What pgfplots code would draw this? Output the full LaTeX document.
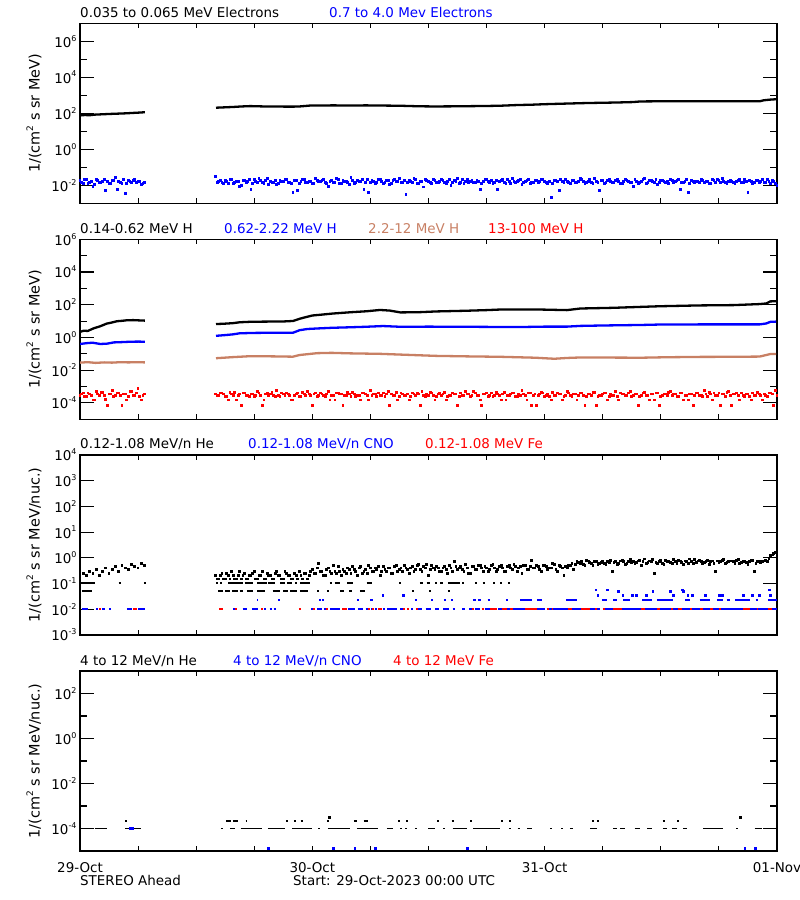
\documentclass[border=0pt]{standalone}
\usepackage{fontspec}
\setmainfont{DejaVu Sans}
\usepackage{pgfplots}
\pgfplotsset{compat=1.18}
\definecolor{tanc}{RGB}{200,128,100}
\newcommand\lbl{\fontsize{13.5}{16}\selectfont}
\newcommand\ylb{\fontsize{14.5}{17}\selectfont}
\newcommand\tp[1]{10\raisebox{0.85ex}{\fontsize{8}{8}\selectfont #1}}
\newcommand\cmq{cm\raisebox{0.85ex}{\fontsize{9}{9}\selectfont 2}}
\pgfplotsset{
 stereo/.style={
  scale only axis, width=697bp, height=180bp, anchor=south west,
  xmin=0, xmax=72, clip=true, clip mode=individual,
  xtick=\empty,
  extra x ticks={0,6,12,18,24,30,36,42,48,54,60,66,72},
  extra x tick labels={},
  extra x tick style={major tick length=5bp},
  major tick length=14bp, minor tick length=7bp,
  tick align=inside,
  tick style={black, line width=1.1bp},
  axis line style={line width=1.2bp},
  tick label style={font=\lbl},
  xticklabel style={yshift=-8bp},
  every axis y label/.style={at={(axis description cs:0,0.5)}, xshift=-46bp, rotate=90, anchor=center, font=\ylb},
  unbounded coords=jump,
 },
 mydots/.style={only marks, mark=square*, mark size=0.9bp, mark options={line width=0pt}},
 myrow/.style={line width=1.8bp, mark=none},
 mytr/.style={line width=2.3bp, mark=none, line join=round},
}
\tikzset{myttl/.style={anchor=base west, inner sep=0pt, font=\lbl, yshift=6bp}}
\begin{document}
\begin{tikzpicture}
\useasboundingbox (0,0) rectangle (800bp,900bp);
% ---------------- Panel 1 ----------------
\begin{axis}[ymode=log, stereo, at={(80bp,696.7bp)}, ymin=1e-3, ymax=1e7,
  ytick={1e-2,1,1e2,1e4,1e6}, minor ytick={1e-1,1e1,1e3,1e5},
  yticklabels={\tp{-2},\tp{0},\tp{2},\tp{4},\tp{6}},
  ylabel={1/(\cmq\ s sr MeV)}]
\addplot[mytr, black] coordinates {(0,76)(0.5,80)(1,78)(1.5,84)(2.1,87)(2.7,90)(3.3,93)(4,96)(4.8,100)(5.5,105)(6.2,110)(6.7,115)};
\addplot[mytr, black] coordinates {(14.05,204)(15,215)(15.8,224)(16.7,240)(17.6,251)(19,240)(20.5,236)(22,234)(22.7,240)(23.8,270)(25,272)(26.1,275)(28,272)(29.6,275)(31.5,268)(33.1,262)(35,245)(36.5,240)(38,242)(40,248)(42,255)(43.4,263)(45,285)(46.8,302)(48,320)(49.6,339)(51,355)(52.4,372)(54,385)(55.5,398)(57.1,420)(57.9,455)(60,465)(62,468)(64,470)(66,468)(68,470)(70.25,470)(70.6,525)(71.3,575)(71.9,603)};
\addplot[mydots, blue] table[row sep=\\, x expr=\coordindex/3, y=v] {v\\ 18e-3\\ 12e-3\\ 20e-3\\ 15e-3\\ 9e-3\\ 22e-3\\ 14e-3\\ 17e-3\\ 5e-3\\ 13e-3\\ 19e-3\\ 28e-3\\ 16e-3\\ 12e-3\\ 3.6e-3\\ 18e-3\\ 14e-3\\ 22e-3\\ 17e-3\\ 11e-3\\ 15e-3\\};
\addplot[mydots, blue] table[row sep=\\, x expr=\coordindex/3+0.1667, y=v] {v\\ 15e-3\\ 20e-3\\ 13e-3\\ 17e-3\\ 11e-3\\ 19e-3\\ 14e-3\\ 22e-3\\ 16e-3\\ 12e-3\\ 18e-3\\ 6e-3\\ 15e-3\\ 21e-3\\ 13e-3\\ 17e-3\\ 19e-3\\ 14e-3\\ 16e-3\\ 12e-3\\};
\addplot[mydots, blue] table[row sep=\\, x expr=\coordindex/3+14, y=v] {v\\
30e-3\\ 16e-3\\ 14e-3\\ 18e-3\\ 12e-3\\ 22e-3\\ 15e-3\\ 17e-3\\ 10e-3\\ 19e-3\\
16e-3\\ 6e-3\\ 21e-3\\ 14e-3\\ 18e-3\\ 13e-3\\ 25e-3\\ 17e-3\\ 15e-3\\ 11e-3\\
19e-3\\ 16e-3\\ 22e-3\\ 14e-3\\ 4e-3\\ 18e-3\\ 13e-3\\ 20e-3\\ 15e-3\\ 17e-3\\
12e-3\\ 24e-3\\ 16e-3\\ 19e-3\\ 14e-3\\ 9e-3\\ 18e-3\\ 15e-3\\ 21e-3\\ 13e-3\\
17e-3\\ 15e-3\\ 26e-3\\ 12e-3\\ 18e-3\\ 16e-3\\ 6e-3\\ 20e-3\\ 14e-3\\ 17e-3\\
15e-3\\ 22e-3\\ 13e-3\\ 18e-3\\ 11e-3\\ 19e-3\\ 16e-3\\ 24e-3\\ 14e-3\\ 3e-3\\
18e-3\\ 15e-3\\ 20e-3\\ 13e-3\\ 17e-3\\ 22e-3\\ 16e-3\\ 12e-3\\ 19e-3\\ 15e-3\\
21e-3\\ 14e-3\\ 17e-3\\ 10e-3\\ 18e-3\\ 25e-3\\ 15e-3\\ 13e-3\\ 20e-3\\ 16e-3\\
14e-3\\ 19e-3\\ 6e-3\\ 17e-3\\ 22e-3\\ 15e-3\\ 12e-3\\ 18e-3\\ 16e-3\\ 21e-3\\
13e-3\\ 17e-3\\ 24e-3\\ 15e-3\\ 19e-3\\ 11e-3\\ 16e-3\\ 20e-3\\ 14e-3\\ 18e-3\\
15e-3\\ 22e-3\\ 17e-3\\ 13e-3\\ 2e-3\\ 19e-3\\ 16e-3\\ 21e-3\\ 14e-3\\ 17e-3\\
12e-3\\ 18e-3\\ 15e-3\\ 23e-3\\ 16e-3\\ 14e-3\\ 20e-3\\ 13e-3\\ 17e-3\\ 5e-3\\
19e-3\\ 15e-3\\ 22e-3\\ 14e-3\\ 18e-3\\ 16e-3\\ 12e-3\\ 21e-3\\ 17e-3\\ 15e-3\\
20e-3\\ 13e-3\\ 16e-3\\ 25e-3\\ 14e-3\\ 18e-3\\ 15e-3\\ 11e-3\\ 19e-3\\ 16e-3\\
17e-3\\ 21e-3\\ 14e-3\\ 18e-3\\ 6e-3\\ 15e-3\\ 22e-3\\ 13e-3\\ 17e-3\\ 16e-3\\
14e-3\\ 19e-3\\ 16e-3\\ 12e-3\\ 20e-3\\ 15e-3\\ 18e-3\\ 23e-3\\ 14e-3\\ 17e-3\\
16e-3\\ 13e-3\\ 19e-3\\ 15e-3\\ 21e-3\\ 4e-3\\ 17e-3\\ 14e-3\\ 18e-3\\ 16e-3\\
15e-3\\ 20e-3\\ 13e-3\\ 17e-3\\ 10e-3\\};
\addplot[mydots, blue] table[row sep=\\, x expr=\coordindex/3+14.1667, y=v] {v\\
14e-3\\ 19e-3\\ 12e-3\\ 16e-3\\ 21e-3\\ 13e-3\\ 17e-3\\ 9e-3\\ 18e-3\\ 15e-3\\
20e-3\\ 12e-3\\ 16e-3\\ 23e-3\\ 14e-3\\ 18e-3\\ 11e-3\\ 15e-3\\ 19e-3\\ 13e-3\\
17e-3\\ 22e-3\\ 15e-3\\ 12e-3\\ 18e-3\\ 5e-3\\ 16e-3\\ 20e-3\\ 14e-3\\ 17e-3\\
13e-3\\ 19e-3\\ 16e-3\\ 21e-3\\ 12e-3\\ 17e-3\\ 15e-3\\ 24e-3\\ 13e-3\\ 18e-3\\
16e-3\\ 11e-3\\ 19e-3\\ 14e-3\\ 17e-3\\ 22e-3\\ 15e-3\\ 4e-3\\ 18e-3\\ 13e-3\\
20e-3\\ 16e-3\\ 14e-3\\ 18e-3\\ 12e-3\\ 21e-3\\ 17e-3\\ 15e-3\\ 19e-3\\ 14e-3\\
16e-3\\ 23e-3\\ 13e-3\\ 17e-3\\ 8e-3\\ 19e-3\\ 15e-3\\ 21e-3\\ 14e-3\\ 16e-3\\
18e-3\\ 12e-3\\ 20e-3\\ 15e-3\\ 17e-3\\ 13e-3\\ 22e-3\\ 16e-3\\ 14e-3\\ 19e-3\\
15e-3\\ 17e-3\\ 12e-3\\ 21e-3\\ 16e-3\\ 19e-3\\ 14e-3\\ 6e-3\\ 18e-3\\ 15e-3\\
22e-3\\ 13e-3\\ 17e-3\\ 16e-3\\ 20e-3\\ 14e-3\\ 18e-3\\ 12e-3\\ 15e-3\\ 19e-3\\
16e-3\\ 21e-3\\ 14e-3\\ 17e-3\\ 13e-3\\ 19e-3\\ 5e-3\\ 16e-3\\ 22e-3\\ 15e-3\\
18e-3\\ 14e-3\\ 16e-3\\ 20e-3\\ 12e-3\\ 17e-3\\ 15e-3\\ 23e-3\\ 14e-3\\ 18e-3\\
13e-3\\ 19e-3\\ 16e-3\\ 15e-3\\ 21e-3\\ 12e-3\\ 17e-3\\ 18e-3\\ 14e-3\\ 9e-3\\
17e-3\\ 15e-3\\ 20e-3\\ 13e-3\\ 18e-3\\ 16e-3\\ 22e-3\\ 14e-3\\ 19e-3\\ 15e-3\\
12e-3\\ 18e-3\\ 16e-3\\ 21e-3\\ 14e-3\\ 17e-3\\ 4e-3\\ 19e-3\\ 15e-3\\ 16e-3\\
20e-3\\ 14e-3\\ 17e-3\\ 13e-3\\ 18e-3\\ 22e-3\\ 15e-3\\ 16e-3\\ 12e-3\\ 19e-3\\
15e-3\\ 17e-3\\ 21e-3\\ 14e-3\\ 16e-3\\ 19e-3\\ 13e-3\\ 18e-3\\ 15e-3\\ 20e-3\\
14e-3\\ 16e-3\\ 18e-3\\ 12e-3\\};
\node[myttl, text=black] at (rel axis cs:0,1) {0.035 to 0.065 MeV Electrons};
\node[myttl, text=blue, xshift=249bp] at (rel axis cs:0,1) {0.7 to 4.0 Mev Electrons};
\end{axis}
% ---------------- Panel 2 ----------------
\begin{axis}[ymode=log, stereo, at={(80bp,480.7bp)}, ymin=1e-5, ymax=1e6,
  ytick={1e-4,1e-2,1,1e2,1e4,1e6}, minor ytick={1e-3,1e-1,1e1,1e3,1e5},
  yticklabels={\tp{-4},\tp{-2},\tp{0},\tp{2},\tp{4},\tp{6}},
  ylabel={1/(\cmq\ s sr MeV)}]
\addplot[mytr, black] coordinates {(0,2.2)(0.4,2.6)(0.8,2.5)(1.4,3.6)(2.07,4.8)(2.75,7.0)(3.2,8.0)(3.8,9.8)(4.4,10.5)(4.8,11.2)(5.5,11.5)(6.2,11.0)(6.7,10.7)};
\addplot[mytr, black] coordinates {(14.05,6.6)(15,7.0)(15.8,7.5)(16.5,8.5)(17.6,9.1)(19,9.3)(21,9.5)(22,10.2)(22.7,14)(23.4,18)(24,22)(25,25)(26.1,29)(28,35)(29.6,40)(31,48)(32,44)(33.1,34)(35,35)(36.8,39)(39.9,43)(42,47)(43.4,51)(47.5,51)(50.3,47)(51.7,59)(55.1,65)(57.9,74)(59.9,81)(64,91)(67.5,95)(70.2,110)(70.9,120)(71.3,160)(71.9,165)};
\addplot[mytr, blue] coordinates {(0,0.40)(0.7,0.45)(1.3,0.48)(2.1,0.40)(2.8,0.42)(3.5,0.50)(4.3,0.52)(5.2,0.55)(6.0,0.56)(6.7,0.55)};
\addplot[mytr, blue] coordinates {(14.05,1.26)(15,1.4)(15.8,1.55)(16.5,1.8)(18,1.9)(20,1.95)(22,1.95)(22.7,2.8)(23.5,3.3)(24.5,3.55)(26,3.9)(27.9,4.2)(29.5,4.5)(31.3,5.0)(33.1,4.5)(36,4.6)(40,4.5)(43,4.4)(46,4.4)(48,4.6)(50.3,4.6)(51.7,5.1)(54,5.4)(57.9,5.8)(60,6.2)(64,6.3)(68,6.3)(70.2,6.3)(70.9,7.2)(71.3,9.0)(71.9,9.3)};
\addplot[mytr, tanc] coordinates {(0,0.029)(0.8,0.031)(1.6,0.028)(2.5,0.030)(3.3,0.029)(4.2,0.031)(5.0,0.030)(5.9,0.031)(6.7,0.030)};
\addplot[mytr, tanc] coordinates {(14.05,0.054)(15.8,0.063)(17.6,0.072)(20,0.070)(22,0.067)(22.7,0.085)(24.5,0.11)(26,0.115)(27.9,0.107)(31,0.100)(33.1,0.090)(36.8,0.075)(40,0.070)(43.4,0.066)(47,0.058)(49,0.050)(50.3,0.056)(51.7,0.060)(55,0.059)(58,0.058)(60.6,0.062)(64,0.065)(67.5,0.066)(70.2,0.068)(70.9,0.085)(71.3,0.097)(71.9,0.098)};
\addplot[mydots, red] table[row sep=\\, x expr=\coordindex/3, y=v] {v\\ 3e-4\\ 4e-4\\ 2.5e-4\\ 3.5e-4\\ 1.5e-4\\ 5e-4\\ 3e-4\\ 4.5e-4\\ 1.7e-4\\ 3.5e-4\\ 6e-4\\ 3e-4\\ 4e-4\\ 0.7e-4\\ 3.5e-4\\ 2.5e-4\\ 5e-4\\ 3e-4\\ 8e-4\\ 1.5e-4\\ 3.5e-4\\};
\addplot[mydots, red] table[row sep=\\, x expr=\coordindex/3+0.1667, y=v] {v\\ 3.5e-4\\ 2.5e-4\\ 4e-4\\ 3e-4\\ 1.5e-4\\ 3.5e-4\\ 4.5e-4\\ 3e-4\\ 0.7e-4\\ 3.5e-4\\ 2.5e-4\\ 4e-4\\ 3e-4\\ 3.5e-4\\ 1.5e-4\\ 5e-4\\ 3e-4\\ 4e-4\\ 2.5e-4\\ 3e-4\\};
\addplot[mydots, red] table[row sep=\\, x expr=\coordindex/3+14, y=v] {v\\
3.5e-4\\ 3e-4\\ 4e-4\\ 2.5e-4\\ 1.5e-4\\ 3.5e-4\\ 4.5e-4\\ 3e-4\\ 0.7e-4\\ 4e-4\\
3e-4\\ 3.5e-4\\ 2.5e-4\\ 5e-4\\ 3e-4\\ 1.5e-4\\ 4e-4\\ 3.5e-4\\ 3e-4\\ 6e-4\\
2.5e-4\\ 3.5e-4\\ 4e-4\\ 3e-4\\ 1.5e-4\\ 3.5e-4\\ 2.5e-4\\ 4.5e-4\\ 3e-4\\ 3.5e-4\\
0.7e-4\\ 4e-4\\ 3e-4\\ 3.5e-4\\ 2.5e-4\\ 5e-4\\ 3e-4\\ 1.5e-4\\ 4e-4\\ 3.5e-4\\
3e-4\\ 4.5e-4\\ 2.5e-4\\ 3.5e-4\\ 3e-4\\ 1.5e-4\\ 4e-4\\ 3e-4\\ 6e-4\\ 3.5e-4\\
2.5e-4\\ 3e-4\\ 4e-4\\ 3.5e-4\\ 0.7e-4\\ 3e-4\\ 4.5e-4\\ 2.5e-4\\ 3.5e-4\\ 3e-4\\
1.5e-4\\ 4e-4\\ 3e-4\\ 3.5e-4\\ 5e-4\\ 2.5e-4\\ 3e-4\\ 4e-4\\ 1.5e-4\\ 3.5e-4\\
3e-4\\ 4.5e-4\\ 2.5e-4\\ 3e-4\\ 3.5e-4\\ 0.7e-4\\ 4e-4\\ 3e-4\\ 3.5e-4\\ 2.5e-4\\
5e-4\\ 3e-4\\ 1.5e-4\\ 3.5e-4\\ 4e-4\\ 3e-4\\ 2.5e-4\\ 4.5e-4\\ 3e-4\\ 3.5e-4\\
1.5e-4\\ 3e-4\\ 4e-4\\ 2.5e-4\\ 3.5e-4\\ 6e-4\\ 3e-4\\ 4e-4\\ 0.7e-4\\ 3.5e-4\\
3e-4\\ 4.5e-4\\ 2.5e-4\\ 3.5e-4\\ 1.5e-4\\ 3e-4\\ 4e-4\\ 3.5e-4\\ 2.5e-4\\ 5e-4\\
3e-4\\ 3.5e-4\\ 1.5e-4\\ 4e-4\\ 3e-4\\ 2.5e-4\\ 3.5e-4\\ 4.5e-4\\ 0.7e-4\\ 3e-4\\
3.5e-4\\ 4e-4\\ 2.5e-4\\ 3e-4\\ 5e-4\\ 1.5e-4\\ 3.5e-4\\ 3e-4\\ 4e-4\\ 2.5e-4\\
3.5e-4\\ 0.7e-4\\ 3e-4\\ 4.5e-4\\ 3e-4\\ 3.5e-4\\ 1.5e-4\\ 4e-4\\ 2.5e-4\\ 3.5e-4\\
3e-4\\ 5e-4\\ 3.5e-4\\ 2.5e-4\\ 4e-4\\ 1.5e-4\\ 3e-4\\ 3.5e-4\\ 0.7e-4\\ 4e-4\\
3e-4\\ 2.5e-4\\ 3.5e-4\\ 4.5e-4\\ 1.5e-4\\ 3e-4\\ 4e-4\\ 3.5e-4\\ 2.5e-4\\ 5e-4\\
0.7e-4\\ 3.5e-4\\ 3e-4\\ 4e-4\\ 2.5e-4\\ 3.5e-4\\ 1.5e-4\\ 3e-4\\ 4.5e-4\\ 3e-4\\
3.5e-4\\ 2.5e-4\\ 4e-4\\ 0.7e-4\\ 3e-4\\};
\addplot[mydots, red] table[row sep=\\, x expr=\coordindex/3+14.1667, y=v] {v\\
3e-4\\ 4e-4\\ 3.5e-4\\ 2.5e-4\\ 4.5e-4\\ 3e-4\\ 1.5e-4\\ 3.5e-4\\ 4e-4\\ 3e-4\\
2.5e-4\\ 3.5e-4\\ 3e-4\\ 4e-4\\ 0.7e-4\\ 3.5e-4\\ 3e-4\\ 4.5e-4\\ 2.5e-4\\ 3e-4\\
4e-4\\ 3e-4\\ 3.5e-4\\ 1.5e-4\\ 3e-4\\ 4e-4\\ 2.5e-4\\ 3.5e-4\\ 5e-4\\ 3e-4\\
3.5e-4\\ 2.5e-4\\ 4e-4\\ 3e-4\\ 3.5e-4\\ 1.5e-4\\ 3e-4\\ 4e-4\\ 3.5e-4\\ 0.7e-4\\
3e-4\\ 3.5e-4\\ 4.5e-4\\ 2.5e-4\\ 3e-4\\ 4e-4\\ 3.5e-4\\ 1.5e-4\\ 3e-4\\ 3.5e-4\\
4e-4\\ 3e-4\\ 2.5e-4\\ 5e-4\\ 3.5e-4\\ 3e-4\\ 1.5e-4\\ 4e-4\\ 3e-4\\ 3.5e-4\\
2.5e-4\\ 3.5e-4\\ 4e-4\\ 0.7e-4\\ 3e-4\\ 3.5e-4\\ 4.5e-4\\ 3e-4\\ 2.5e-4\\ 4e-4\\
3.5e-4\\ 1.5e-4\\ 3e-4\\ 4e-4\\ 3.5e-4\\ 2.5e-4\\ 3e-4\\ 5e-4\\ 3.5e-4\\ 3e-4\\
4e-4\\ 3e-4\\ 0.7e-4\\ 3.5e-4\\ 2.5e-4\\ 4e-4\\ 3e-4\\ 3.5e-4\\ 1.5e-4\\ 4.5e-4\\
3e-4\\ 3.5e-4\\ 4e-4\\ 2.5e-4\\ 3e-4\\ 3.5e-4\\ 1.5e-4\\ 4e-4\\ 3e-4\\ 0.7e-4\\
3.5e-4\\ 4e-4\\ 3e-4\\ 2.5e-4\\ 4.5e-4\\ 3e-4\\ 3.5e-4\\ 1.5e-4\\ 3e-4\\ 4e-4\\
2.5e-4\\ 3.5e-4\\ 3e-4\\ 4e-4\\ 0.7e-4\\ 3.5e-4\\ 3e-4\\ 4.5e-4\\ 2.5e-4\\ 3e-4\\
4e-4\\ 1.5e-4\\ 3.5e-4\\ 3e-4\\ 2.5e-4\\ 4e-4\\ 3.5e-4\\ 3e-4\\ 5e-4\\ 3e-4\\
3.5e-4\\ 2.5e-4\\ 4e-4\\ 3e-4\\ 1.5e-4\\ 3.5e-4\\ 4e-4\\ 0.7e-4\\ 3e-4\\ 3.5e-4\\
4.5e-4\\ 3e-4\\ 3.5e-4\\ 2.5e-4\\ 4e-4\\ 3e-4\\ 1.5e-4\\ 3.5e-4\\ 3e-4\\ 4e-4\\
3e-4\\ 6e-4\\ 2.5e-4\\ 3.5e-4\\ 4e-4\\ 3e-4\\ 0.7e-4\\ 3.5e-4\\ 4.5e-4\\ 3e-4\\
3.5e-4\\ 4e-4\\ 1.5e-4\\ 3e-4\\ 3.5e-4\\ 2.5e-4\\ 4e-4\\ 3e-4\\ 3.5e-4\\ 1.5e-4\\
3e-4\\ 4e-4\\ 3.5e-4\\ 6e-4\\};
\node[myttl, text=black] at (rel axis cs:0,1) {0.14-0.62 MeV H};
\node[myttl, text=blue, xshift=144bp] at (rel axis cs:0,1) {0.62-2.22 MeV H};
\node[myttl, text=tanc, xshift=288bp] at (rel axis cs:0,1) {2.2-12 MeV H};
\node[myttl, text=red, xshift=408bp] at (rel axis cs:0,1) {13-100 MeV H};
\end{axis}
% ---------------- Panel 3 ----------------
\begin{axis}[ymode=log, stereo, at={(80bp,265bp)}, ymin=1e-3, ymax=1e4,
  ytick={1e-3,1e-2,1e-1,1,1e1,1e2,1e3,1e4}, yminorticks=false,
  yticklabels={\tp{-3},\tp{-2},\tp{-1},\tp{0},\tp{1},\tp{2},\tp{3},\tp{4}},
  ylabel={1/(\cmq\ s sr MeV/nuc.)}]
\addplot[myrow, black] coordinates {(0,0.107)(1.5,0.107)(1.5,nan)(4.0,0.107)(4.2,0.107)(4.2,nan)(6.6,0.107)(6.8,0.107)(6.8,nan)(14.05,0.107)(14.3,0.107)(14.3,nan)(14.5,0.107)(14.7,0.107)(14.7,nan)(15.3,0.107)(16.8,0.107)(16.8,nan)(17.0,0.107)(17.9,0.107)(17.9,nan)(18.3,0.107)(19.3,0.107)(19.3,nan)(19.4,0.107)(20.1,0.107)(20.1,nan)(20.7,0.107)(21.2,0.107)(21.2,nan)(21.4,0.107)(21.9,0.107)(21.9,nan)(22.2,0.107)(22.4,0.107)(22.4,nan)(22.7,0.107)(23.8,0.107)(23.8,nan)(25.8,0.107)(26.0,0.107)(26.0,nan)(26.3,0.107)(26.9,0.107)(26.9,nan)(27.6,0.107)(28.2,0.107)(28.2,nan)(29.6,0.107)(30.2,0.107)(30.2,nan)(33.0,0.107)(33.2,0.107)(33.2,nan)(35.1,0.107)(35.4,0.107)(35.4,nan)(35.8,0.107)(36.2,0.107)(36.2,nan)(36.7,0.107)(36.9,0.107)(36.9,nan)(37.2,0.107)(37.5,0.107)(37.5,nan)(38.0,0.107)(39.3,0.107)(39.3,nan)(39.5,0.107)(39.7,0.107)(39.7,nan)(40.8,0.107)(41.0,0.107)(41.0,nan)(41.6,0.107)(41.8,0.107)(41.8,nan)(42.7,0.107)(42.9,0.107)(42.9,nan)(43.4,0.107)(43.6,0.107)(43.6,nan)(44.2,0.107)(44.4,0.107)};
\addplot[myrow, black] coordinates {(0.2,0.052)(1.25,0.052)(1.25,nan)(14.26,0.052)(14.77,0.052)(14.77,nan)(15.0,0.052)(15.5,0.052)(15.5,nan)(15.7,0.052)(16.3,0.052)(16.3,nan)(16.5,0.052)(16.8,0.052)(16.8,nan)(17.25,0.052)(17.9,0.052)(17.9,nan)(18.3,0.052)(19.1,0.052)(19.1,nan)(19.9,0.052)(20.7,0.052)(20.7,nan)(21.0,0.052)(21.5,0.052)(21.5,nan)(21.7,0.052)(22.4,0.052)(22.4,nan)(22.7,0.052)(23.55,0.052)(23.55,nan)(24.5,0.052)(24.7,0.052)(24.7,nan)(25.5,0.052)(25.7,0.052)(25.7,nan)(26.9,0.052)(27.3,0.052)(27.3,nan)(27.8,0.052)(28.1,0.052)(28.1,nan)(28.9,0.052)(29.4,0.052)(29.4,nan)(34.3,0.052)(34.5,0.052)(34.5,nan)(36.1,0.052)(36.3,0.052)(36.3,nan)(38.0,0.052)(38.2,0.052)};
\addplot[mydots, black] table[row sep=\\, x expr=\coordindex/3, y=v] {v\\ 0.2\\ 0.25\\ 0.2\\ 0.3\\ 0.25\\ 0.35\\ 0.2\\ 0.3\\ 0.4\\ 0.25\\ 0.35\\ 0.45\\ 0.3\\ 0.5\\ 0.4\\ 0.35\\ 0.55\\ 0.45\\ 0.4\\ 0.6\\ 0.5\\};
\addplot[mydots, black] table[row sep=\\, x expr=\coordindex/3+14, y=v] {v\\
0.2\\ 0.15\\ 0.25\\ 0.15\\ 0.2\\ 0.3\\ 0.15\\ 0.2\\ 0.15\\ 0.25\\
0.15\\ 0.2\\ 0.3\\ 0.15\\ 0.2\\ 0.15\\ 0.25\\ 0.2\\ 0.15\\ 0.3\\
0.2\\ 0.15\\ 0.25\\ 0.2\\ 0.15\\ 0.2\\ 0.3\\ 0.15\\ 0.25\\ 0.2\\
0.35\\ 0.25\\ 0.6\\ 0.3\\ 0.2\\ 0.4\\ 0.25\\ 0.3\\ 0.45\\ 0.2\\
0.3\\ 0.4\\ 0.25\\ 0.35\\ 0.2\\ 0.45\\ 0.3\\ 0.25\\ 0.4\\ 0.3\\
0.35\\ 0.2\\ 0.45\\ 0.3\\ 0.4\\ 0.25\\ 0.5\\ 0.35\\ 0.3\\ 0.4\\
0.25\\ 0.45\\ 0.35\\ 0.55\\ 0.3\\ 0.4\\ 0.2\\ 0.5\\ 0.35\\ 0.4\\
0.3\\ 0.45\\ 0.25\\ 0.4\\ 0.7\\ 0.35\\ 0.45\\ 0.3\\ 0.4\\ 0.25\\
0.45\\ 0.35\\ 0.5\\ 0.3\\ 0.4\\ 0.35\\ 0.55\\ 0.3\\ 0.45\\ 0.4\\
0.3\\ 0.5\\ 0.35\\ 0.45\\ 0.4\\ 0.25\\ 0.5\\ 0.35\\ 0.8\\ 0.4\\
0.45\\ 0.3\\ 0.5\\ 0.35\\ 0.4\\ 0.55\\ 0.3\\ 0.45\\ 0.2\\ 0.4\\
0.5\\ 0.35\\ 0.7\\ 0.6\\ 0.55\\ 0.8\\ 0.65\\ 0.5\\ 0.7\\ 0.6\\
0.75\\ 0.55\\ 0.65\\ 0.3\\ 0.7\\ 0.6\\ 0.8\\ 0.55\\ 0.7\\ 0.65\\
0.6\\ 0.75\\ 0.5\\ 0.9\\ 0.65\\ 0.7\\ 0.25\\ 0.6\\ 0.8\\ 0.55\\
0.7\\ 0.65\\ 0.85\\ 0.6\\ 0.75\\ 0.55\\ 0.7\\ 0.9\\ 0.6\\ 0.65\\
0.8\\ 0.6\\ 0.7\\ 0.55\\ 0.75\\ 0.3\\ 0.65\\ 0.8\\ 0.6\\ 0.7\\
0.75\\ 0.6\\ 0.85\\ 0.65\\ 0.7\\ 0.55\\ 0.8\\ 0.3\\ 0.7\\ 0.65\\
0.75\\ 0.7\\ 1.2\\ 1.5\\ 1.4\\};
\addplot[mydots, black] table[row sep=\\, x expr=\coordindex/3+14.1667, y=v] {v\\
0.15\\ 0.2\\ 0.15\\ 0.25\\ 0.15\\ 0.2\\ 0.15\\ 0.3\\ 0.2\\ 0.15\\
0.2\\ 0.25\\ 0.15\\ 0.2\\ 0.3\\ 0.15\\ 0.2\\ 0.15\\ 0.25\\ 0.2\\
0.15\\ 0.3\\ 0.2\\ 0.15\\ 0.25\\ 0.15\\ 0.2\\ 0.25\\ 0.15\\ 0.3\\
0.25\\ 0.4\\ 0.3\\ 0.2\\ 0.35\\ 0.3\\ 0.5\\ 0.25\\ 0.3\\ 0.35\\
0.25\\ 0.35\\ 0.45\\ 0.3\\ 0.4\\ 0.25\\ 0.35\\ 0.5\\ 0.3\\ 0.4\\
0.45\\ 0.3\\ 0.35\\ 0.4\\ 0.25\\ 0.45\\ 0.3\\ 0.4\\ 0.5\\ 0.35\\
0.4\\ 0.3\\ 0.5\\ 0.35\\ 0.45\\ 0.55\\ 0.35\\ 0.4\\ 0.45\\ 0.3\\
0.4\\ 0.35\\ 0.5\\ 0.3\\ 0.45\\ 0.4\\ 0.35\\ 0.55\\ 0.25\\ 0.45\\
0.35\\ 0.5\\ 0.4\\ 0.45\\ 0.3\\ 0.5\\ 0.4\\ 0.35\\ 0.5\\ 0.3\\
0.45\\ 0.4\\ 0.55\\ 0.3\\ 0.45\\ 0.5\\ 0.35\\ 0.45\\ 0.4\\ 0.5\\
0.35\\ 0.5\\ 0.45\\ 0.4\\ 0.6\\ 0.35\\ 0.5\\ 0.4\\ 0.45\\ 0.5\\
0.6\\ 0.55\\ 0.65\\ 0.7\\ 0.5\\ 0.75\\ 0.6\\ 0.7\\ 0.55\\ 0.65\\
0.6\\ 0.7\\ 0.8\\ 0.65\\ 0.55\\ 0.75\\ 0.7\\ 0.6\\ 0.85\\ 0.7\\
0.65\\ 0.8\\ 0.7\\ 0.6\\ 0.75\\ 0.85\\ 0.65\\ 0.7\\ 0.6\\ 0.8\\
0.75\\ 0.6\\ 0.7\\ 0.8\\ 0.65\\ 0.75\\ 0.6\\ 0.7\\ 0.85\\ 0.75\\
0.7\\ 0.65\\ 0.8\\ 0.7\\ 0.6\\ 0.75\\ 0.7\\ 0.85\\ 0.65\\ 0.75\\
0.7\\ 0.8\\ 0.6\\ 0.75\\ 0.65\\ 0.7\\ 0.8\\ 0.6\\ 0.75\\ 0.7\\
0.8\\ 0.9\\ 1.3\\ 1.6\\};
\addplot[myrow, blue] coordinates {(0.2,0.0101)(0.8,0.0101)(0.8,nan)(1.7,0.0101)(1.9,0.0101)(1.9,nan)(2.3,0.0101)(2.6,0.0101)(2.6,nan)(3.0,0.0101)(3.2,0.0101)(3.2,nan)(4.85,0.0101)(5.4,0.0101)(5.4,nan)(6.0,0.0101)(6.7,0.0101)(6.7,nan)(15.8,0.0101)(16.0,0.0101)(16.0,nan)(16.8,0.0101)(17.25,0.0101)(17.25,nan)(17.8,0.0101)(18.4,0.0101)(18.4,nan)(19.0,0.0101)(19.2,0.0101)(19.2,nan)(19.6,0.0101)(19.8,0.0101)(19.8,nan)(20.0,0.0101)(20.2,0.0101)(20.2,nan)(23.9,0.0101)(24.1,0.0101)(24.1,nan)(24.5,0.0101)(25.0,0.0101)(25.0,nan)(25.2,0.0101)(25.4,0.0101)(25.4,nan)(25.8,0.0101)(26.9,0.0101)(26.9,nan)(27.7,0.0101)(28.4,0.0101)(28.4,nan)(28.7,0.0101)(29.2,0.0101)(29.2,nan)(29.5,0.0101)(29.75,0.0101)(29.75,nan)(30.1,0.0101)(30.3,0.0101)(30.3,nan)(30.5,0.0101)(30.7,0.0101)(30.7,nan)(31.3,0.0101)(31.5,0.0101)(31.5,nan)(31.7,0.0101)(32.7,0.0101)(32.7,nan)(33.1,0.0101)(33.4,0.0101)(33.4,nan)(34.2,0.0101)(34.4,0.0101)(34.4,nan)(34.9,0.0101)(35.3,0.0101)(35.3,nan)(35.7,0.0101)(36.3,0.0101)(36.3,nan)(36.7,0.0101)(37.1,0.0101)(37.1,nan)(37.5,0.0101)(38.1,0.0101)(38.1,nan)(38.5,0.0101)(38.7,0.0101)(38.7,nan)(39.5,0.0101)(39.8,0.0101)(39.8,nan)(40.2,0.0101)(40.5,0.0101)(40.5,nan)(40.8,0.0101)(41.3,0.0101)(41.3,nan)(41.8,0.0101)(42.9,0.0101)(42.9,nan)(43.2,0.0101)(48.0,0.0101)(48.0,nan)(48.3,0.0101)(53.7,0.0101)(53.7,nan)(54.0,0.0101)(64.0,0.0101)(64.0,nan)(64.4,0.0101)(72,0.0101)};
\addplot[myrow, blue] coordinates {(18.3,0.023)(18.4,0.023)(18.4,nan)(20.5,0.023)(20.7,0.023)(20.7,nan)(24.7,0.023)(24.9,0.023)(24.9,nan)(25.0,0.023)(25.2,0.023)(25.2,nan)(28.6,0.023)(28.8,0.023)(28.8,nan)(30.0,0.023)(30.3,0.023)(30.3,nan)(34.6,0.023)(34.8,0.023)(34.8,nan)(36.3,0.023)(36.5,0.023)(36.5,nan)(37.6,0.023)(37.8,0.023)(37.8,nan)(38.3,0.023)(38.5,0.023)(38.5,nan)(40.6,0.023)(40.9,0.023)(40.9,nan)(41.1,0.023)(41.4,0.023)(41.4,nan)(42.1,0.023)(42.4,0.023)(42.4,nan)(44.0,0.023)(44.2,0.023)(44.2,nan)(45.5,0.023)(46.7,0.023)(46.7,nan)(47.2,0.023)(47.7,0.023)(47.7,nan)(50.2,0.023)(51.3,0.023)(51.3,nan)(53.9,0.023)(54.4,0.023)(54.4,nan)(55.1,0.023)(55.5,0.023)(55.5,nan)(56.1,0.023)(56.8,0.023)(56.8,nan)(58.1,0.023)(59.1,0.023)(59.1,nan)(59.6,0.023)(61.3,0.023)(61.3,nan)(62.5,0.023)(63.0,0.023)(63.0,nan)(64.0,0.023)(65.1,0.023)(65.1,nan)(65.8,0.023)(66.4,0.023)(66.4,nan)(66.8,0.023)(67.1,0.023)(67.1,nan)(67.7,0.023)(69.2,0.023)(69.2,nan)(69.8,0.023)(70.0,0.023)(70.0,nan)(71.1,0.023)(72,0.023)};
\addplot[mydots, blue] coordinates {(31.3,0.035)(33.4,0.035)(53.3,0.056)(54.5,0.056)(62.2,0.056)(71.2,0.056)(55.6,0.048)(59.2,0.048)(61.0,0.048)(62.3,0.048)(53.5,0.035)(56.1,0.035)(57.1,0.035)(57.5,0.035)(58.5,0.035)(61.3,0.035)(62.8,0.035)(63.3,0.035)(64.6,0.035)(66.1,0.035)(66.4,0.035)(68.5,0.035)(69.5,0.035)(70.2,0.035)(71.3,0.035)};
\addplot[myrow, red] coordinates {(2.0,0.0101)(2.2,0.0101)(2.2,nan)(5.5,0.0101)(5.9,0.0101)(5.9,nan)(14.4,0.0101)(14.8,0.0101)(14.8,nan)(16.0,0.0101)(16.2,0.0101)(16.2,nan)(18.7,0.0101)(18.9,0.0101)(18.9,nan)(22.6,0.0101)(22.8,0.0101)(22.8,nan)(24.1,0.0101)(24.3,0.0101)(24.3,nan)(25.4,0.0101)(25.6,0.0101)(25.6,nan)(27.1,0.0101)(27.6,0.0101)(27.6,nan)(29.8,0.0101)(30.0,0.0101)(30.0,nan)(30.2,0.0101)(30.4,0.0101)(30.4,nan)(30.8,0.0101)(31.2,0.0101)(31.2,nan)(33.4,0.0101)(33.6,0.0101)(33.6,nan)(33.8,0.0101)(34.0,0.0101)(34.0,nan)(34.7,0.0101)(34.9,0.0101)(34.9,nan)(40.5,0.0101)(40.7,0.0101)(40.7,nan)(41.5,0.0101)(41.7,0.0101)(41.7,nan)(42.4,0.0101)(43.1,0.0101)(43.1,nan)(43.6,0.0101)(44.1,0.0101)(44.1,nan)(44.4,0.0101)(44.7,0.0101)(44.7,nan)(46.0,0.0101)(47.2,0.0101)(47.2,nan)(48.2,0.0101)(48.4,0.0101)(48.4,nan)(48.8,0.0101)(48.9,0.0101)(48.9,nan)(50.4,0.0101)(50.8,0.0101)(50.8,nan)(51.8,0.0101)(52.7,0.0101)(52.7,nan)(53.2,0.0101)(53.4,0.0101)(53.4,nan)(54.0,0.0101)(54.2,0.0101)(54.2,nan)(55.1,0.0101)(56.0,0.0101)(56.0,nan)(57.9,0.0101)(58.4,0.0101)(58.4,nan)(59.6,0.0101)(59.9,0.0101)(59.9,nan)(61.1,0.0101)(61.3,0.0101)(61.3,nan)(61.8,0.0101)(62.2,0.0101)(62.2,nan)(63.0,0.0101)(63.2,0.0101)(63.2,nan)(64.0,0.0101)(64.4,0.0101)(64.4,nan)(65.1,0.0101)(65.4,0.0101)(65.4,nan)(66.0,0.0101)(66.2,0.0101)(66.2,nan)(68.5,0.0101)(69.2,0.0101)(69.2,nan)(69.9,0.0101)(70.0,0.0101)(70.0,nan)(71.1,0.0101)(71.5,0.0101)};
\node[myttl, text=black] at (rel axis cs:0,1) {0.12-1.08 MeV/n He};
\node[myttl, text=blue, xshift=168bp] at (rel axis cs:0,1) {0.12-1.08 MeV/n CNO};
\node[myttl, text=red, xshift=345bp] at (rel axis cs:0,1) {0.12-1.08 MeV Fe};
\end{axis}
% ---------------- Panel 4 ----------------
\begin{axis}[ymode=log, stereo, at={(80bp,49bp)}, ymin=1e-5, ymax=1e3,
  ytick={1e-4,1e-2,1,1e2}, minor ytick={1e-3,1e-1,1e1},
  yticklabels={\tp{-4},\tp{-2},\tp{0},\tp{2}},
  extra x tick labels={29-Oct,,,,30-Oct,,,,31-Oct,,,,01-Nov},
  ylabel={1/(\cmq\ s sr MeV/nuc.)}]
\addplot[line width=1.5bp, black] coordinates {(0,1e-4)(1.2,1e-4)(1.2,nan)(1.5,1e-4)(2.8,1e-4)(2.8,nan)(4.65,1e-4)(6.3,1e-4)(6.3,nan)(14.6,1e-4)(14.8,1e-4)(14.8,nan)(15.5,1e-4)(16,1e-4)(16,nan)(16.6,1e-4)(18.8,1e-4)(18.8,nan)(19.4,1e-4)(21.2,1e-4)(21.2,nan)(21.9,1e-4)(24,1e-4)(24,nan)(24.6,1e-4)(24.8,1e-4)(24.8,nan)(25.6,1e-4)(27.9,1e-4)(27.9,nan)(28.6,1e-4)(30.8,1e-4)(30.8,nan)(31.7,1e-4)(32.3,1e-4)(32.3,nan)(33.1,1e-4)(33.3,1e-4)(33.3,nan)(33.6,1e-4)(33.8,1e-4)(33.8,nan)(34.6,1e-4)(34.8,1e-4)(34.8,nan)(35.95,1e-4)(36.7,1e-4)(36.7,nan)(37.5,1e-4)(37.7,1e-4)(37.7,nan)(38.5,1e-4)(40,1e-4)(40,nan)(40.6,1e-4)(43.4,1e-4)(43.4,nan)(44.3,1e-4)(44.5,1e-4)(44.5,nan)(45.2,1e-4)(45.5,1e-4)(45.5,nan)(46.2,1e-4)(46.7,1e-4)(46.7,nan)(48.6,1e-4)(48.8,1e-4)(48.8,nan)(49.7,1e-4)(49.9,1e-4)(49.9,nan)(50.6,1e-4)(50.9,1e-4)(50.9,nan)(52.7,1e-4)(53.4,1e-4)(53.4,nan)(55.1,1e-4)(55.5,1e-4)(55.5,nan)(55.8,1e-4)(56.3,1e-4)(56.3,nan)(57.3,1e-4)(57.85,1e-4)(57.85,nan)(58.6,1e-4)(59.1,1e-4)(59.1,nan)(60.2,1e-4)(60.6,1e-4)(60.6,nan)(61.2,1e-4)(61.7,1e-4)(61.7,nan)(62.3,1e-4)(62.7,1e-4)(62.7,nan)(64.4,1e-4)(66.4,1e-4)(66.4,nan)(67.8,1e-4)(68,1e-4)(68,nan)(69.7,1e-4)(70.5,1e-4)};
\addplot[myrow, black] coordinates {(4.65,2.1e-4)(4.85,2.1e-4)(4.85,nan)(15.1,2.1e-4)(15.6,2.1e-4)(15.6,nan)(15.8,2.1e-4)(16.3,2.1e-4)(16.3,nan)(17.1,2.1e-4)(17.3,2.1e-4)(17.3,nan)(21.3,2.1e-4)(21.5,2.1e-4)(21.5,nan)(22.1,2.1e-4)(22.3,2.1e-4)(22.3,nan)(22.8,2.1e-4)(23.0,2.1e-4)(23.0,nan)(25.5,2.1e-4)(25.7,2.1e-4)(25.7,nan)(28.3,2.1e-4)(28.6,2.1e-4)(28.6,nan)(29.3,2.1e-4)(29.75,2.1e-4)(29.75,nan)(32.9,2.1e-4)(33.1,2.1e-4)(33.1,nan)(33.7,2.1e-4)(33.9,2.1e-4)(33.9,nan)(36.9,2.1e-4)(37.1,2.1e-4)(37.1,nan)(38.4,2.1e-4)(38.6,2.1e-4)(38.6,nan)(40.3,2.1e-4)(40.5,2.1e-4)(40.5,nan)(43.5,2.1e-4)(43.7,2.1e-4)(43.7,nan)(44.3,2.1e-4)(44.5,2.1e-4)(44.5,nan)(52.9,2.1e-4)(53.1,2.1e-4)(53.1,nan)(53.4,2.1e-4)(53.6,2.1e-4)(53.6,nan)(60.2,2.1e-4)(60.4,2.1e-4)(60.4,nan)(61.7,2.1e-4)(61.9,2.1e-4)};
\addplot[mydots, black] coordinates {(25.8,3.2e-4)(68.2,3.2e-4)};
\addplot[mydots, blue] coordinates {(5.2,1e-4)(5.4,1e-4)(19.5,1.3e-5)(26.2,1.3e-5)(28.4,1.3e-5)(30.5,1.3e-5)(40.05,1.3e-5)(68.7,1.3e-5)(69.8,1.3e-5)};
\node[myttl, text=black] at (rel axis cs:0,1) {4 to 12 MeV/n He};
\node[myttl, text=blue, xshift=153bp] at (rel axis cs:0,1) {4 to 12 MeV/n CNO};
\node[myttl, text=red, xshift=313bp] at (rel axis cs:0,1) {4 to 12 MeV Fe};
\node[anchor=base west, inner sep=0pt, font=\lbl, yshift=-34.5bp] at (rel axis cs:0,0) {STEREO Ahead};
\node[anchor=base west, inner sep=0pt, font=\lbl, yshift=-34.5bp, xshift=213bp] at (rel axis cs:0,0) {Start: 29-Oct-2023 00:00 UTC};
\end{axis}
\end{tikzpicture}
\end{document}
